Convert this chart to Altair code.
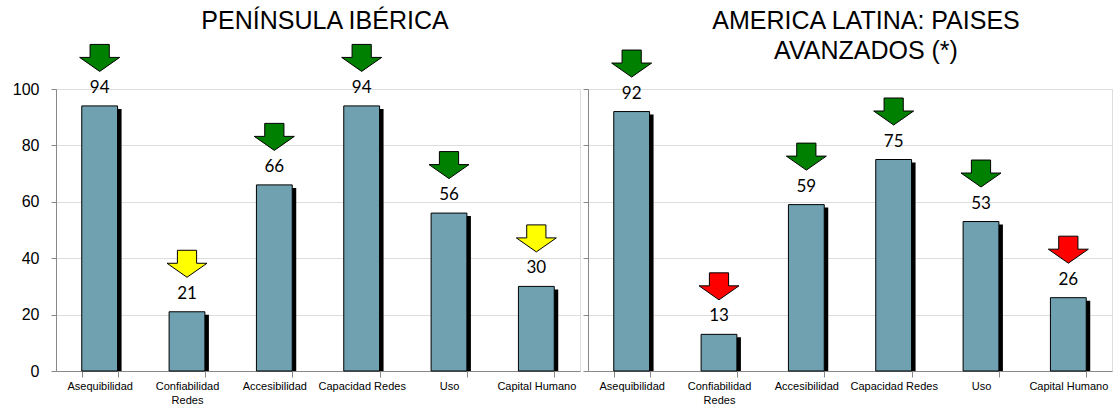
import altair as alt
import pandas as pd

# Indicator categories ("|" marks a line break in the axis label)
categorias = ["Asequibilidad", "Confiabilidad|Redes", "Accesibilidad",
              "Capacidad Redes", "Uso", "Capital Humano"]

# Península Ibérica
iberica_valores = [94, 21, 66, 94, 56, 30]
iberica_tendencia = ["verde", "amarillo", "verde", "verde", "verde", "amarillo"]

# América Latina: países avanzados
latam_valores = [92, 13, 59, 75, 53, 26]
latam_tendencia = ["verde", "rojo", "verde", "verde", "verde", "rojo"]

ticks_y = [0, 20, 40, 60, 80, 100]

COLOR_BARRA = "#6FA1B0"
tendencias = ["verde", "amarillo", "rojo"]
colores_tendencia = ["#008000", "#FFFF00", "#FF0000"]

# Down-pointing block arrow in the symbol unit square
FLECHA = ("M -0.48 -0.675 L 0.48 -0.675 L 0.48 -0.025 L 1 -0.025 "
          "L 0 0.675 L -1 -0.025 L -0.48 -0.025 Z")

ANCHO, ALTO = 524, 282


def panel(valores, tendencia, titulo, con_etiquetas, titulo_x):
    df = pd.DataFrame({"categoria": categorias, "valor": valores,
                       "tendencia": tendencia})
    x = alt.X("categoria:N", sort=categorias,
              scale=alt.Scale(paddingInner=0.59, paddingOuter=0.295),
              axis=alt.Axis(title=None, labelAngle=0, tickBand="extent",
                            labelExpr="isString(datum.value) ? split(datum.value, '|') : ''",
                            labelFontSize=11, labelPadding=3, tickSize=6,
                            labelLineHeight=14, grid=False))
    y = alt.Y("valor:Q", scale=alt.Scale(domain=[0, 100], nice=False),
              axis=alt.Axis(title=None, values=ticks_y, grid=True,
                            labels=con_etiquetas, labelFontSize=16,
                            labelPadding=12, tickSize=5))
    base = alt.Chart(df)
    sombra = base.mark_bar(color="black", xOffset=4, yOffset=3).encode(
        x=x, y=y, y2=alt.datum(0))
    barras = base.mark_bar(fill=COLOR_BARRA, stroke="black",
                           strokeWidth=1).encode(x=x, y=y, y2=alt.datum(0))
    etiquetas = base.mark_text(dy=-18, fontSize=17, font="Lato",
                               baseline="middle", color="black").encode(
        x=x, y=y, text=alt.Text("valor:Q", format="d"))
    flechas = base.mark_point(shape=FLECHA, size=1600, filled=True,
                              stroke="black", strokeWidth=1, opacity=1,
                              yOffset=-48).encode(
        x=x, y=y,
        fill=alt.Fill("tendencia:N",
                      scale=alt.Scale(domain=tendencias,
                                      range=colores_tendencia),
                      legend=None))
    cabecera = alt.Chart(pd.DataFrame({"titulo": [titulo]})).mark_text(
        font="Liberation Sans", fontSize=25, color="black", align="center",
        baseline="top", lineBreak="|", lineHeight=30
    ).encode(x=alt.value(titulo_x), y=alt.value(-80), text="titulo:N")
    return alt.layer(sombra, barras, etiquetas, flechas, cabecera).properties(
        width=ANCHO, height=ALTO)


izq = panel(iberica_valores, iberica_tendencia, "PENÍNSULA IBÉRICA",
            True, 269)
der = panel(latam_valores, latam_tendencia,
            "AMERICA LATINA: PAISES|AVANZADOS (*)", False, 278)

chart = alt.hconcat(izq, der, spacing=8, bounds="flush").properties(
    padding={"left": 11, "top": 8, "right": 0, "bottom": 0}
).configure_view(
    stroke="black", strokeWidth=1.5
).configure_axis(
    labelFont="Lato", labelColor="black", domainColor="#8a8a8a",
    tickColor="#8a8a8a", gridColor="#8c8c8c", gridWidth=1
).configure(background="white")

chart.save("out.html", embed_options={"renderer": "svg", "actions": False})
